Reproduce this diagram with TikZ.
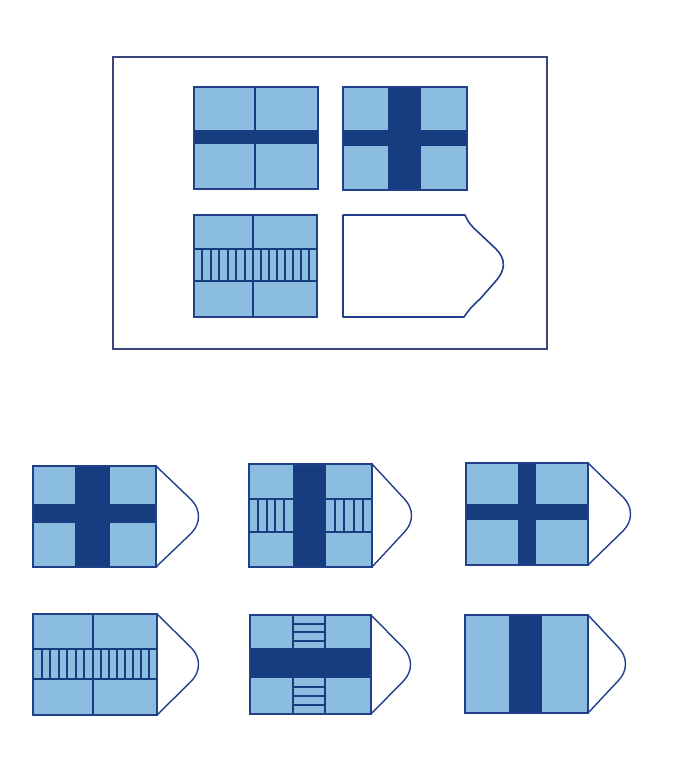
\documentclass[tikz,border=0pt]{standalone}
\definecolor{lb}{RGB}{138,189,224}
\definecolor{nv}{RGB}{24,60,128}
\definecolor{ln}{RGB}{34,64,138}
\definecolor{fr}{RGB}{60,70,120}
\tikzset{
  flagbox/.style={fill=lb,draw=ln,line width=1.6pt},
  outline/.style={draw=ln,line width=1.8pt},
  band/.style={fill=nv},
  thinline/.style={draw=nv,line width=2.4pt},
  hatch/.style={draw=nv,line width=2pt},
  penline/.style={draw=ln,line width=1.4pt,line join=round},
  frame/.style={draw=fr,line width=1.2pt}
}
\newcommand\pennant[4]{%
  \draw[penline] (#1,#2) -- ({#4-9},{(#2+#3)/2-17})
    .. controls ({#4+1},{(#2+#3)/2-7}) and ({#4+1},{(#2+#3)/2+7}) .. ({#4-9},{(#2+#3)/2+17})
    -- (#1,#3);}
\begin{document}
\begin{tikzpicture}[x=1pt,y=-1pt]
\useasboundingbox (0,0) rectangle (688,759);
\fill[white] (0,0) rectangle (688,759);
% outer frame
\draw[frame] (113,57) rectangle (547,349);

% flag 1 (top-left)
\fill[lb] (194,87) rectangle (318,189);
\fill[band] (194,130) rectangle (318,144);
\draw[thinline] (255,87) -- (255,189);
\draw[outline] (194,87) rectangle (318,189);

% flag 2 (top-right)
\fill[lb] (343,87) rectangle (467,190);
\fill[band] (388,87) rectangle (421,190);
\fill[band] (343,130) rectangle (467,146);
\draw[outline] (343,87) rectangle (467,190);

% flag 3 (bottom-left)
\fill[lb] (194,215) rectangle (317,317);
\draw[thinline] (253,215) -- (253,317);
\draw[hatch] (194,249) -- (317,249);
\draw[hatch] (194,281) -- (317,281);
\foreach \i in {1,...,6} \draw[hatch] ({194+\i*59/7},249) -- ({194+\i*59/7},281);
\foreach \i in {1,...,7} \draw[hatch] ({253+\i*64/8},249) -- ({253+\i*64/8},281);
\draw[outline] (194,215) rectangle (317,317);

% blank flag
\draw[penline,line width=1.6pt] (465,215) -- (343,215) -- (343,317) -- (464,317)
  .. controls (468,311) and (472,306) .. (480,299)
  -- (495,282) .. controls (506,270) and (506,259) .. (496,249)
  -- (478,232) .. controls (470,225) and (467,220) .. (465,215) -- cycle;

% option A
\fill[lb] (33,466) rectangle (156,567);
\fill[band] (75,466) rectangle (110,567);
\fill[band] (33,504) rectangle (156,523);
\draw[outline] (33,466) rectangle (156,567);
\pennant{156}{466}{567}{200}

% option B
\fill[lb] (249,464) rectangle (372,567);
\fill[band] (293,464) rectangle (326,567);
\draw[hatch] (249,499) -- (293,499);
\draw[hatch] (249,532) -- (293,532);
\draw[hatch] (326,499) -- (372,499);
\draw[hatch] (326,532) -- (372,532);
\foreach \i in {1,...,4} \draw[hatch] ({249+\i*44/5},499) -- ({249+\i*44/5},532);
\foreach \i in {1,...,4} \draw[hatch] ({326+\i*46/5},499) -- ({326+\i*46/5},532);
\draw[outline] (249,464) rectangle (372,567);
\pennant{372}{464}{567}{413}

% option C
\fill[lb] (466,463) rectangle (588,565);
\fill[band] (518,463) rectangle (536,565);
\fill[band] (466,504) rectangle (588,520);
\draw[outline] (466,463) rectangle (588,565);
\pennant{588}{463}{565}{632}

% option D
\fill[lb] (33,614) rectangle (157,715);
\draw[thinline] (93,614) -- (93,715);
\draw[hatch] (33,649) -- (157,649);
\draw[hatch] (33,679) -- (157,679);
\foreach \i in {1,...,6} \draw[hatch] ({33+\i*60/7},649) -- ({33+\i*60/7},679);
\foreach \i in {1,...,7} \draw[hatch] ({93+\i*64/8},649) -- ({93+\i*64/8},679);
\draw[outline] (33,614) rectangle (157,715);
\pennant{157}{614}{715}{200}

% option E
\fill[lb] (250,615) rectangle (371,714);
\fill[band] (250,648) rectangle (371,678);
\draw[hatch] (293,615) -- (293,648);
\draw[hatch] (325,615) -- (325,648);
\draw[hatch] (293,678) -- (293,714);
\draw[hatch] (325,678) -- (325,714);
\foreach \y in {623.5,632,640.5,687,696,705} \draw[hatch] (293,\y) -- (325,\y);
\draw[outline] (250,615) rectangle (371,714);
\pennant{371}{615}{714}{412}

% option F
\fill[lb] (465,615) rectangle (588,713);
\fill[band] (509,615) rectangle (542,713);
\draw[outline] (465,615) rectangle (588,713);
\pennant{588}{615}{713}{627}
\end{tikzpicture}
\end{document}
